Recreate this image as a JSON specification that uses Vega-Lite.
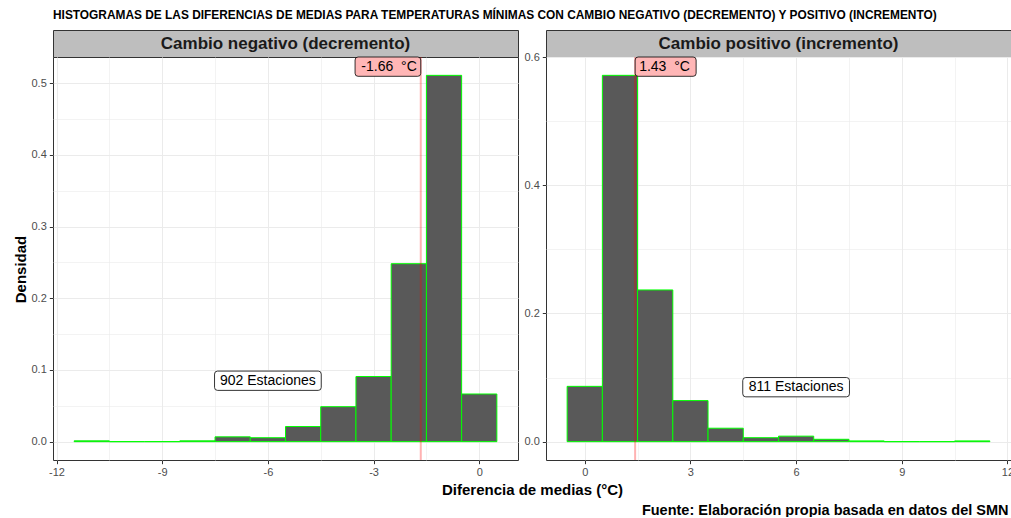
{
  "$schema": "https://vega.github.io/schema/vega-lite/v6.json",
  "background": "white",
  "padding": {"left": 12, "top": 8, "right": 0, "bottom": 0},
  "title": {
    "text": "HISTOGRAMAS DE LAS DIFERENCIAS DE MEDIAS PARA TEMPERATURAS MÍNIMAS CON CAMBIO NEGATIVO (DECREMENTO) Y POSITIVO (INCREMENTO)",
    "anchor": "start", "frame": "group", "font": "Liberation Sans", "fontSize": 11.9, "fontWeight": "bold", "color": "black", "offset": 8
  },
  "datasets": {
    "neg": [
      {"lo": -11.5, "hi": -10.5, "densidad": 0.0011},
      {"lo": -10.5, "hi": -9.5, "densidad": 0},
      {"lo": -9.5, "hi": -8.5, "densidad": 0},
      {"lo": -8.5, "hi": -7.5, "densidad": 0.0011},
      {"lo": -7.5, "hi": -6.5, "densidad": 0.0067},
      {"lo": -6.5, "hi": -5.5, "densidad": 0.0055},
      {"lo": -5.5, "hi": -4.5, "densidad": 0.0211},
      {"lo": -4.5, "hi": -3.5, "densidad": 0.0488},
      {"lo": -3.5, "hi": -2.5, "densidad": 0.0909},
      {"lo": -2.5, "hi": -1.5, "densidad": 0.2483},
      {"lo": -1.5, "hi": -0.5, "densidad": 0.5111},
      {"lo": -0.5, "hi": 0.5, "densidad": 0.0665}
    ],
    "pos": [
      {"lo": -0.5, "hi": 0.5, "densidad": 0.0863},
      {"lo": 0.5, "hi": 1.5, "densidad": 0.5715},
      {"lo": 1.5, "hi": 2.5, "densidad": 0.2367},
      {"lo": 2.5, "hi": 3.5, "densidad": 0.0641},
      {"lo": 3.5, "hi": 4.5, "densidad": 0.021},
      {"lo": 4.5, "hi": 5.5, "densidad": 0.0062},
      {"lo": 5.5, "hi": 6.5, "densidad": 0.0086},
      {"lo": 6.5, "hi": 7.5, "densidad": 0.0037},
      {"lo": 7.5, "hi": 8.5, "densidad": 0.0012},
      {"lo": 8.5, "hi": 9.5, "densidad": 0},
      {"lo": 9.5, "hi": 10.5, "densidad": 0},
      {"lo": 10.5, "hi": 11.5, "densidad": 0.0012}
    ],
    "negMean": [{"media": -1.66, "etiqueta": "-1.66 \u00a0°C"}],
    "posMean": [{"media": 1.43, "etiqueta": "1.43 \u00a0°C"}],
    "negN": [{"x": -6, "y": 0.085, "etiqueta": "902 Estaciones"}],
    "posN": [{"x": 6, "y": 0.085, "etiqueta": "811 Estaciones"}],
    "panelNeg": [{"panel": "Cambio negativo (decremento)"}],
    "panelPos": [{"panel": "Cambio positivo (incremento)"}]
  },
  "columns": 2,
  "bounds": "flush",
  "spacing": {"row": 0, "column": 28},
  "concat": [
    {
      "width": 465, "height": 27,
      "view": {"fill": "#BEBEBE", "stroke": "#333333", "strokeWidth": 1},
      "data": {"name": "panelNeg"},
      "mark": {"type": "text", "font": "Liberation Sans", "fontSize": 17, "fontWeight": "bold", "color": "#1A1A1A", "baseline": "middle", "align": "center"},
      "encoding": {"text": {"field": "panel"}}
    },
    {
      "width": 465, "height": 27,
      "view": {"fill": "#BEBEBE", "stroke": "#333333", "strokeWidth": 1},
      "data": {"name": "panelPos"},
      "mark": {"type": "text", "font": "Liberation Sans", "fontSize": 17, "fontWeight": "bold", "color": "#1A1A1A", "baseline": "middle", "align": "center"},
      "encoding": {"text": {"field": "panel"}}
    },
    {
      "width": 465, "height": 403,
      "view": {"fill": "white", "stroke": "#333333", "strokeWidth": 1},
      "resolve": {"axis": {"x": "independent", "y": "independent"}},
      "layer": [
        {
          "data": {"name": "neg"},
          "mark": {"type": "rect", "fill": "#595959", "stroke": "#00FF00", "strokeWidth": 1},
          "encoding": {
            "x": {"field": "lo", "type": "quantitative",
              "scale": {"domain": [-12.1, 1.1], "nice": false, "zero": false},
              "axis": {"values": [-12, -9, -6, -3, 0], "labelExpr": "'' + datum.value", "grid": true,
                "title": "Diferencia de medias (°C)", "titleX": 479, "titleY": 34, "titleAlign": "center", "titleBaseline": "alphabetic", "titleAnchor": "middle"}},
            "x2": {"field": "hi"},
            "y": {"field": "densidad", "type": "quantitative",
              "scale": {"domain": [-0.0256, 0.5367], "nice": false, "zero": false},
              "axis": {"values": [0, 0.1, 0.2, 0.3, 0.4, 0.5], "format": ".1f", "grid": true,
                "title": "Densidad", "titlePadding": 3, "titleY": 212}},
            "y2": {"datum": 0}
          }
        },
        {
          "data": {"name": "negMean"},
          "mark": {"type": "rule", "color": "red", "opacity": 0.3, "strokeWidth": 2},
          "encoding": {
            "x": {"field": "media", "type": "quantitative",
              "axis": {"orient": "top", "values": [-10.5, -7.5, -4.5, -1.5], "grid": true, "gridWidth": 0.6, "labels": false, "ticks": false, "domain": false, "title": null}}
          }
        },
        {
          "data": {"name": "negMean"},
          "mark": {"type": "point", "shape": "M-1.254,0L-0.06,0Q0,0,0,0.06L0,0.326Q0,0.386,-0.06,0.386L-1.254,0.386Q-1.314,0.386,-1.314,0.326L-1.314,0.06Q-1.314,0,-1.254,0Z",
            "size": 10000, "filled": true, "fill": "#FFB6B6", "stroke": "black", "strokeWidth": 0.8, "opacity": 1},
          "encoding": {
            "x": {"field": "media", "type": "quantitative", "axis": null},
            "y": {"datum": 0.5367, "type": "quantitative", "axis": null}
          }
        },
        {
          "data": {"name": "negMean"},
          "mark": {"type": "text", "font": "Liberation Sans", "fontSize": 14, "color": "black", "align": "right", "baseline": "middle", "dx": -4, "dy": 10},
          "encoding": {
            "x": {"field": "media", "type": "quantitative", "axis": null},
            "y": {"datum": 0.5367, "type": "quantitative", "axis": null},
            "text": {"field": "etiqueta"}
          }
        },
        {
          "data": {"name": "negN"},
          "mark": {"type": "point", "shape": "M-1.007,-0.193L1.007,-0.193Q1.067,-0.193,1.067,-0.133L1.067,0.133Q1.067,0.193,1.007,0.193L-1.007,0.193Q-1.067,0.193,-1.067,0.133L-1.067,-0.133Q-1.067,-0.193,-1.007,-0.193Z",
            "size": 10000, "filled": true, "fill": "white", "stroke": "black", "strokeWidth": 0.8, "opacity": 1},
          "encoding": {
            "x": {"field": "x", "type": "quantitative", "axis": null},
            "y": {"field": "y", "type": "quantitative", "axis": null}
          }
        },
        {
          "data": {"name": "negN"},
          "mark": {"type": "text", "font": "Liberation Sans", "fontSize": 14, "color": "black", "align": "center", "baseline": "middle"},
          "encoding": {
            "x": {"field": "x", "type": "quantitative", "axis": null},
            "y": {"field": "y", "type": "quantitative",
              "axis": {"orient": "right", "values": [0.05, 0.15, 0.25, 0.35, 0.45], "grid": true, "gridWidth": 0.6, "labels": false, "ticks": false, "domain": false, "title": null}},
            "text": {"field": "etiqueta"}
          }
        }
      ]
    },
    {
      "width": 465, "height": 403,
      "view": {"fill": "white", "stroke": "#333333", "strokeWidth": 1},
      "resolve": {"axis": {"x": "independent", "y": "independent"}},
      "layer": [
        {
          "data": {"name": "pos"},
          "mark": {"type": "rect", "fill": "#595959", "stroke": "#00FF00", "strokeWidth": 1},
          "encoding": {
            "x": {"field": "lo", "type": "quantitative",
              "scale": {"domain": [-1.1, 12.1], "nice": false, "zero": false},
              "axis": {"values": [0, 3, 6, 9, 12], "labelExpr": "'' + datum.value", "grid": true,
                "title": "Fuente: Elaboración propia basada en datos del SMN", "titleFontSize": 14.5, "titleX": 462, "titleY": 54, "titleAlign": "right", "titleBaseline": "alphabetic", "titleAnchor": "end"}},
            "x2": {"field": "hi"},
            "y": {"field": "densidad", "type": "quantitative",
              "scale": {"domain": [-0.0286, 0.6001], "nice": false, "zero": false},
              "axis": {"values": [0, 0.2, 0.4, 0.6], "format": ".1f", "grid": true, "title": null}},
            "y2": {"datum": 0}
          }
        },
        {
          "data": {"name": "posMean"},
          "mark": {"type": "rule", "color": "red", "opacity": 0.3, "strokeWidth": 2},
          "encoding": {
            "x": {"field": "media", "type": "quantitative",
              "axis": {"orient": "top", "values": [1.5, 4.5, 7.5, 10.5], "grid": true, "gridWidth": 0.6, "labels": false, "ticks": false, "domain": false, "title": null}}
          }
        },
        {
          "data": {"name": "posMean"},
          "mark": {"type": "point", "shape": "M0.06,0L1.16,0Q1.22,0,1.22,0.06L1.22,0.326Q1.22,0.386,1.16,0.386L0.06,0.386Q0,0.386,0,0.326L0,0.06Q0,0,0.06,0Z",
            "size": 10000, "filled": true, "fill": "#FFB6B6", "stroke": "black", "strokeWidth": 0.8, "opacity": 1},
          "encoding": {
            "x": {"field": "media", "type": "quantitative", "axis": null},
            "y": {"datum": 0.6001, "type": "quantitative", "axis": null}
          }
        },
        {
          "data": {"name": "posMean"},
          "mark": {"type": "text", "font": "Liberation Sans", "fontSize": 14, "color": "black", "align": "left", "baseline": "middle", "dx": 4, "dy": 10},
          "encoding": {
            "x": {"field": "media", "type": "quantitative", "axis": null},
            "y": {"datum": 0.6001, "type": "quantitative", "axis": null},
            "text": {"field": "etiqueta"}
          }
        },
        {
          "data": {"name": "posN"},
          "mark": {"type": "point", "shape": "M-1.007,-0.193L1.007,-0.193Q1.067,-0.193,1.067,-0.133L1.067,0.133Q1.067,0.193,1.007,0.193L-1.007,0.193Q-1.067,0.193,-1.067,0.133L-1.067,-0.133Q-1.067,-0.193,-1.007,-0.193Z",
            "size": 10000, "filled": true, "fill": "white", "stroke": "black", "strokeWidth": 0.8, "opacity": 1},
          "encoding": {
            "x": {"field": "x", "type": "quantitative", "axis": null},
            "y": {"field": "y", "type": "quantitative", "axis": null}
          }
        },
        {
          "data": {"name": "posN"},
          "mark": {"type": "text", "font": "Liberation Sans", "fontSize": 14, "color": "black", "align": "center", "baseline": "middle"},
          "encoding": {
            "x": {"field": "x", "type": "quantitative", "axis": null},
            "y": {"field": "y", "type": "quantitative",
              "axis": {"orient": "right", "values": [0.1, 0.3, 0.5], "grid": true, "gridWidth": 0.6, "labels": false, "ticks": false, "domain": false, "title": null}},
            "text": {"field": "etiqueta"}
          }
        }
      ]
    }
  ],
  "config": {
    "font": "Liberation Sans",
    "axis": {
      "labelFont": "Liberation Sans", "labelFontSize": 11, "labelColor": "#4D4D4D",
      "tickColor": "#333333", "tickSize": 3.7, "tickWidth": 1, "domain": false,
      "gridColor": "#EBEBEB", "gridWidth": 1, "labelPadding": 3, "labelFlush": false, "labelOverlap": false,
      "titleFont": "Liberation Sans", "titleFontSize": 15, "titleFontWeight": "bold", "titleColor": "black"
    }
  }
}
